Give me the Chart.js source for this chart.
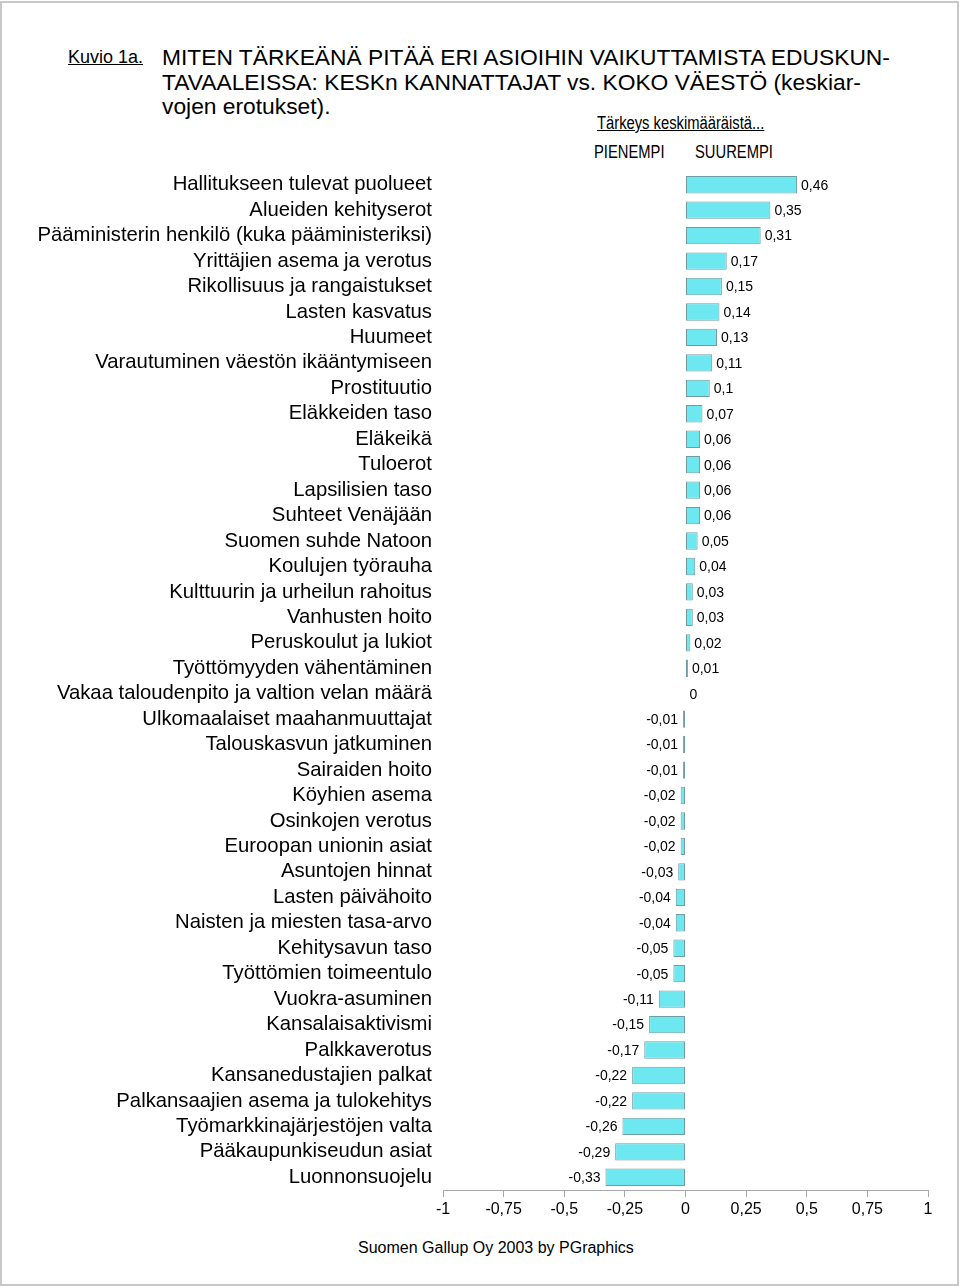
<!DOCTYPE html>
<html lang="fi">
<head>
<meta charset="utf-8">
<title>Kuvio 1a</title>
<script src="https://cdn.jsdelivr.net/npm/chart.js@4.4.1/dist/chart.umd.min.js"></script>
<style>
  html, body { margin: 0; padding: 0; background: #fff; }
  body { width: 960px; height: 1287px; position: relative; overflow: hidden;
         font-family: "Liberation Sans", Arial, sans-serif; color: #000; }
  .frame { position: absolute; left: 0; top: 1px; width: 955px; height: 1281px;
           border: 2px solid #c8c8c8; }
  .txt { position: absolute; white-space: nowrap; line-height: 24.5px; }
  .kuvio { left: 68px; top: 45px; font-size: 18px; text-decoration: underline; }
  .title { left: 162px; top: 45px; font-size: 22.8px; }
  .narrow { font-size: 18px; transform: scaleX(0.82); transform-origin: 0 50%; }
  .scope { left: 597px; top: 111px; text-decoration: underline; }
  .pien { left: 594px; top: 140px; }
  .suur { left: 695px; top: 140px; }
  .foot { left: 358px; top: 1236px; font-size: 16px; }
  .wrap { position: absolute; left: 0; top: 170px; width: 960px; height: 1060px; }
</style>
</head>
<body>
<div class="frame"></div>
<div class="txt kuvio">Kuvio 1a.</div>
<div class="txt title">MITEN TÄRKEÄNÄ PITÄÄ ERI ASIOIHIN VAIKUTTAMISTA EDUSKUN-<br>TAVAALEISSA: KESKn KANNATTAJAT vs. KOKO VÄESTÖ (keskiar-<br>vojen erotukset).</div>
<div class="txt narrow scope">Tärkeys keskimääräistä...</div>
<div class="txt narrow pien">PIENEMPI</div>
<div class="txt narrow suur">SUUREMPI</div>
<div class="wrap"><canvas id="chart"></canvas></div>
<div class="txt foot">Suomen Gallup Oy 2003 by PGraphics</div>
<script>
const topics = [
  "Hallitukseen tulevat puolueet",
  "Alueiden kehityserot",
  "Pääministerin henkilö (kuka pääministeriksi)",
  "Yrittäjien asema ja verotus",
  "Rikollisuus ja rangaistukset",
  "Lasten kasvatus",
  "Huumeet",
  "Varautuminen väestön ikääntymiseen",
  "Prostituutio",
  "Eläkkeiden taso",
  "Eläkeikä",
  "Tuloerot",
  "Lapsilisien taso",
  "Suhteet Venäjään",
  "Suomen suhde Natoon",
  "Koulujen työrauha",
  "Kulttuurin ja urheilun rahoitus",
  "Vanhusten hoito",
  "Peruskoulut ja lukiot",
  "Työttömyyden vähentäminen",
  "Vakaa taloudenpito ja valtion velan määrä",
  "Ulkomaalaiset maahanmuuttajat",
  "Talouskasvun jatkuminen",
  "Sairaiden hoito",
  "Köyhien asema",
  "Osinkojen verotus",
  "Euroopan unionin asiat",
  "Asuntojen hinnat",
  "Lasten päivähoito",
  "Naisten ja miesten tasa-arvo",
  "Kehitysavun taso",
  "Työttömien toimeentulo",
  "Vuokra-asuminen",
  "Kansalaisaktivismi",
  "Palkkaverotus",
  "Kansanedustajien palkat",
  "Palkansaajien asema ja tulokehitys",
  "Työmarkkinajärjestöjen valta",
  "Pääkaupunkiseudun asiat",
  "Luonnonsuojelu"
];

const differences = [
  0.46, 0.35, 0.31, 0.17, 0.15, 0.14, 0.13, 0.11, 0.1, 0.07,
  0.06, 0.06, 0.06, 0.06, 0.05, 0.04, 0.03, 0.03, 0.02, 0.01,
  0, -0.01, -0.01, -0.01, -0.02, -0.02, -0.02, -0.03, -0.04, -0.04,
  -0.05, -0.05, -0.11, -0.15, -0.17, -0.22, -0.22, -0.26, -0.29, -0.33
];

const xTicks = [-1, -0.75, -0.5, -0.25, 0, 0.25, 0.5, 0.75, 1];

const fmt = (v) => String(v).replace(".", ",");

// value labels next to bar ends
const valueLabels = {
  id: "valueLabels",
  afterDatasetsDraw(chart) {
    const ctx = chart.ctx;
    const meta = chart.getDatasetMeta(0);
    ctx.save();
    ctx.font = "14px 'Liberation Sans', Arial, sans-serif";
    ctx.fillStyle = "#000";
    ctx.textBaseline = "middle";
    meta.data.forEach((bar, i) => {
      const v = differences[i];
      if (v < 0) {
        ctx.textAlign = "right";
        ctx.fillText(fmt(v), bar.x - 5, bar.y + 1);
      } else {
        ctx.textAlign = "left";
        ctx.fillText(fmt(v), bar.x + 4, bar.y + 1);
      }
    });
    ctx.restore();
  }
};

Chart.defaults.font.family = "'Liberation Sans', Arial, sans-serif";
Chart.defaults.color = "#000";

new Chart(document.getElementById("chart"), {
  type: "bar",
  data: {
    labels: topics,
    datasets: [{
      data: differences,
      backgroundColor: "#6ee8f0",
      borderColor: "#6f9da2",
      borderWidth: 1,
      borderSkipped: false,
      barPercentage: 0.68,
      categoryPercentage: 1
    }]
  },
  options: {
    indexAxis: "y",
    responsive: true,
    maintainAspectRatio: false,
    animation: false,
    layout: { padding: { top: 2, right: 32, left: 0, bottom: 0 } },
    plugins: { legend: { display: false }, tooltip: { enabled: false } },
    scales: {
      x: {
        min: -1,
        max: 1,
        afterBuildTicks: (scale) => {
          scale.ticks = xTicks.map((value) => ({ value }));
        },
        afterFit: (scale) => { scale.height = 40; },
        grid: { drawOnChartArea: false, drawTicks: true, tickLength: 7, color: "#a8a8a8" },
        border: { display: true, color: "#a8a8a8", width: 1 },
        ticks: {
          font: { size: 16 },
          padding: 3,
          maxRotation: 0,
          autoSkip: false,
          callback: (value) => fmt(value)
        }
      },
      y: {
        afterFit: (scale) => {
          scale.width = 443;
          scale.paddingTop = 0;
          scale.paddingBottom = 0;
        },
        grid: { display: false, drawTicks: false },
        border: { display: false },
        ticks: { font: { size: 20.3 }, padding: 11, autoSkip: false }
      }
    }
  },
  plugins: [valueLabels]
});
</script>
</body>
</html>
